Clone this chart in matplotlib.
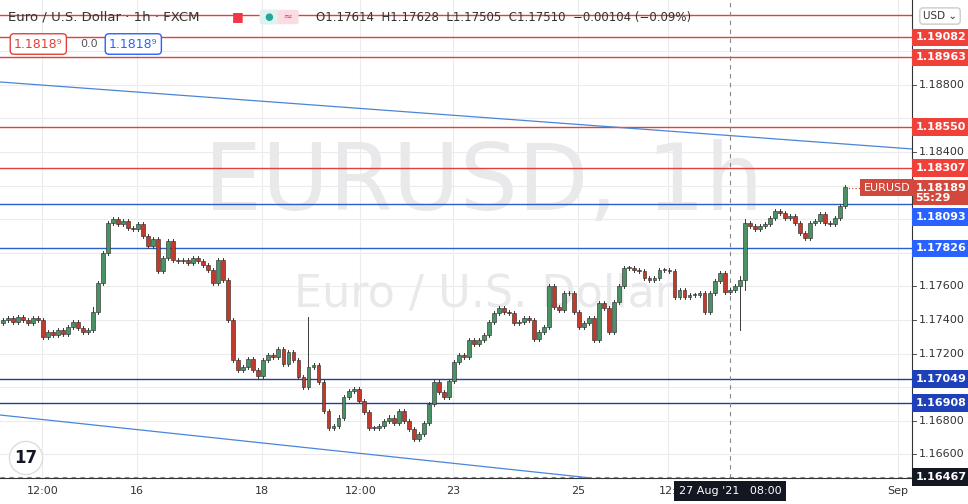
import matplotlib.pyplot as plt
import matplotlib.transforms as mtransforms
import numpy as np

# ============================================================
# Data (2-hour steps)
# ============================================================
closes = [
    1.1740, 1.1741, 1.1739, 1.1742, 1.1740, 1.1738, 1.1741, 1.1740,
    1.1730, 1.1733, 1.1731, 1.1734, 1.1732, 1.1736, 1.1739, 1.1735, 1.1733, 1.1734,
    1.1745, 1.1762, 1.1780, 1.1798,
    1.1800, 1.1797, 1.1799, 1.1795, 1.1794, 1.1797,
    1.1790, 1.1784, 1.1788, 1.1769, 1.1777, 1.1787, 1.1776,
    1.1775, 1.1776, 1.1774, 1.1777, 1.1775, 1.1773,
    1.1770, 1.1762, 1.1776, 1.1764,
    1.1740, 1.1716, 1.1710,
    1.1712, 1.1717, 1.1710, 1.1707,
    1.1716, 1.1719, 1.1718, 1.1723, 1.1714,
    1.1721, 1.1716, 1.1706, 1.1700,
    1.1712, 1.1713, 1.1703, 1.1686,
    1.1676, 1.1677, 1.1682, 1.1694,
    1.1698, 1.1699, 1.1692, 1.1685,
    1.1676, 1.1676, 1.1677, 1.1680, 1.1682,
    1.1679, 1.1686, 1.1680, 1.1675, 1.1669,
    1.1672, 1.1679, 1.1690, 1.1703,
    1.1697, 1.1694, 1.1704, 1.1715, 1.1719, 1.1718, 1.1728, 1.1726, 1.1728, 1.1731,
    1.1739, 1.1744, 1.1747, 1.1745, 1.1744, 1.1738, 1.1739, 1.1741, 1.1740, 1.1729,
    1.1733, 1.1736, 1.1760, 1.1748, 1.1746, 1.1756, 1.1756, 1.1745, 1.1736, 1.1738,
    1.1741, 1.1728, 1.1750, 1.1747, 1.1733, 1.1751, 1.1760, 1.1771, 1.1771, 1.1770,
    1.1769, 1.1765, 1.1764, 1.1765, 1.1770, 1.1770, 1.1769, 1.1754, 1.1758, 1.1754,
    1.1755, 1.1755, 1.1756, 1.1745, 1.1756, 1.1763, 1.1768, 1.1757, 1.1758, 1.1760,
    1.1764, 1.1798, 1.1796, 1.1794, 1.1796, 1.1797, 1.1801, 1.1805, 1.1804, 1.1801,
    1.1802, 1.1798, 1.1792, 1.1789, 1.1798, 1.1799, 1.1803, 1.1798, 1.1797, 1.1801,
    1.1808, 1.1819,
]
first_open = 1.1738
# notable wicks: bar index -> (high, low)
spikes = {18: (1.1748, 1.1734), 61: (1.1742, 1.1700), 147: (1.1766, 1.1734), 148: (1.1800, 1.1758)}

# horizontal levels
red_levels = [1.19215, 1.19082, 1.18963, 1.18550, 1.18307]
blue_levels = [1.18093, 1.17826]
navy_levels = [1.17049, 1.16908]
last_price = 1.18189

# trend lines: (hour, price) end points
upper_trend = [(-52, 1.18817), (294, 1.18418)]
lower_trend = [(-52, 1.16835), (172, 1.16460)]

tick_hours = [-36, 0, 47.3, 84.5, 119.7, 167, 201, 288.3]
tick_labels = ["12:00", "16", "18", "12:00", "23", "25", "12:", "Sep"]
price_ticks = np.round(np.arange(1.166, 1.1901, 0.002), 3)
shown_ticks = [1.166, 1.168, 1.172, 1.174, 1.176, 1.184, 1.188]

# ============================================================
# Figure
# ============================================================
fig = plt.figure(figsize=(9.68, 5.04), dpi=100)
ax = fig.add_axes([0, 26 / 504, 912 / 968, 478 / 504])
ax.set_xlim(-52, 293.6)
ax.set_ylim(1.16460, 1.19305)
ax.set_xticks([])
ax.set_yticks([])
for s in ["top", "left"]:
    ax.spines[s].set_visible(False)
ax.spines["right"].set_color("#333333")
ax.spines["bottom"].set_color("#333333")

# grid
for p in price_ticks:
    ax.axhline(p, color="#ececec", lw=0.8, zorder=0)
for h in tick_hours:
    ax.axvline(h, color="#ececec", lw=0.8, zorder=0)

# watermarks
ax.text(0.53, 0.615, "EURUSD, 1h", transform=ax.transAxes, ha="center", va="center",
        fontsize=66, color="#e9e9ec", zorder=0.5)
ax.text(0.53, 0.385, "Euro / U.S. Dollar", transform=ax.transAxes, ha="center", va="center",
        fontsize=32, color="#e9e9ec", zorder=0.5)

# levels
for p in red_levels:
    ax.axhline(p, color="#e0413a", lw=1, zorder=2)
for p in blue_levels:
    ax.axhline(p, color="#2d5fc9", lw=1, zorder=2)
for p in navy_levels:
    ax.axhline(p, color="#1e3f9a", lw=1, zorder=2)

# trend lines
for line in (upper_trend, lower_trend):
    ax.plot([line[0][0], line[1][0]], [line[0][1], line[1][1]], color="#4a86d8", lw=0.9, zorder=2)

# candles
step = 1.9
h0 = -51
xs = h0 + step * np.arange(len(closes))
opens = [first_open] + closes[:-1]
for i, (x, o, c) in enumerate(zip(xs, opens, closes)):
    hi, lo = max(o, c) + 0.00012, min(o, c) - 0.00012
    if i in spikes:
        hi, lo = max(hi, spikes[i][0]), min(lo, spikes[i][1])
    col = "#4a9166" if c >= o else "#c23a2c"
    ax.plot([x, x], [lo, hi], color="#3a3a3a", lw=0.7, zorder=3)
    body = max(abs(c - o), 0.00003)
    ax.add_patch(plt.Rectangle((x - step * 0.38, min(o, c)), step * 0.76, body,
                               facecolor=col, edgecolor="#222222", lw=0.4, zorder=4))

# last price dotted line
ax.plot([xs[-1], 293.6], [last_price, last_price], color="#c23a2c", lw=0.8, ls=(0, (1, 2)), zorder=3)

# crosshair
ax.axvline(224.6, color="#888888", lw=0.8, ls=(0, (4, 4)), zorder=2)
ax.axhline(1.16467, color="#888888", lw=0.8, ls=(0, (4, 4)), zorder=2)

# ============================================================
# Right price scale
# ============================================================
ytr = mtransforms.blended_transform_factory(ax.transAxes, ax.transData)
for p in price_ticks:
    ax.plot([1.0, 1.004], [p, p], transform=ytr, color="#333333", lw=0.6, clip_on=False)
for p in shown_ticks:
    ax.text(1.008, p, f"{p:.5f}", transform=ytr, ha="left", va="center",
            fontsize=8, color="#333333", clip_on=False)


def price_box(p, txt, color, va="center"):
    ax.text(1.004, p, txt, transform=ytr, ha="left", va=va, fontsize=8,
            fontweight="bold", color="white", clip_on=False, zorder=10,
            bbox=dict(boxstyle="square,pad=0.35", facecolor=color, edgecolor="none"))


for p in red_levels[1:]:
    price_box(p, f"{p:.5f}", "#f0403a")
# the 1.18093 label is pushed below the last-price label, as on the chart
price_box(1.18012, f"{blue_levels[0]:.5f}", "#2962ff")
price_box(blue_levels[1], f"{blue_levels[1]:.5f}", "#2962ff")
for p in navy_levels:
    price_box(p, f"{p:.5f}", "#1e40b8")
ax.text(1.004, 1.18218, f"{last_price:.5f}\n55:29", transform=ytr, ha="left",
        va="top", fontsize=8, fontweight="bold", color="white", clip_on=False, zorder=11,
        linespacing=1.0, bbox=dict(boxstyle="square,pad=0.25", facecolor="#d2483c", edgecolor="none"))
ax.text(0.998, last_price, "EURUSD", transform=ytr, ha="right", va="center", fontsize=8,
        color="white", clip_on=False, zorder=10,
        bbox=dict(boxstyle="square,pad=0.35", facecolor="#d2483c", edgecolor="none"))
price_box(1.16467, "1.16467", "#131722")
fig.text(940 / 968, 1 - 16 / 504, "USD ⌄", ha="center", va="center", fontsize=7.5, color="#333333",
         zorder=12, bbox=dict(boxstyle="round,pad=0.3", facecolor="white", edgecolor="#cccccc"))

# ============================================================
# Time axis
# ============================================================
xtr = mtransforms.blended_transform_factory(ax.transData, ax.transAxes)
for h, lab in zip(tick_hours, tick_labels):
    ax.text(h, -0.028, lab, transform=xtr, ha="center", va="center", fontsize=8,
            color="#333333", clip_on=False)
ax.text(224.6, -0.028, "27 Aug '21   08:00", transform=xtr, ha="center", va="center",
        fontsize=8, color="white", clip_on=False, zorder=10,
        bbox=dict(boxstyle="square,pad=0.45", facecolor="#131722", edgecolor="none"))

# ============================================================
# Header
# ============================================================
fig.text(8 / 968, 1 - 17 / 504, "Euro / U.S. Dollar · 1h · FXCM", fontsize=9.5,
         color="#333333", va="center")
fig.text(232 / 968, 1 - 17 / 504, "■", fontsize=9, color="#f23645", va="center")
fig.text(262 / 968, 1 - 17 / 504, " ● ", fontsize=7, color="#26a69a", va="center",
         bbox=dict(boxstyle="round,pad=0.25", facecolor="#e0f2ef", edgecolor="none"))
fig.text(280 / 968, 1 - 17 / 504, " ≈ ", fontsize=8, color="#e04070", va="center",
         bbox=dict(boxstyle="round,pad=0.2", facecolor="#fbdbe4", edgecolor="none"))
fig.text(316 / 968, 1 - 17 / 504, "O1.17614  H1.17628  L1.17505  C1.17510  −0.00104 (−0.09%)",
         fontsize=8.5, color="#333333", va="center")
fig.text(14 / 968, 1 - 44 / 504, "1.1818⁹", fontsize=9, color="#e0413a", va="center",
         bbox=dict(boxstyle="round,pad=0.3", facecolor="white", edgecolor="#e0413a"))
fig.text(80 / 968, 1 - 44 / 504, "0.0", fontsize=8, color="#555555", va="center")
fig.text(109 / 968, 1 - 44 / 504, "1.1818⁹", fontsize=9, color="#2962ff", va="center",
         bbox=dict(boxstyle="round,pad=0.3", facecolor="white", edgecolor="#2962ff"))
fig.text(26 / 968, 1 - 458 / 504, "17", fontsize=12, fontweight="bold", color="#131722",
         ha="center", va="center",
         bbox=dict(boxstyle="circle,pad=0.3", facecolor="white", edgecolor="#dddddd"))

fig.savefig("out.png", dpi=100)
